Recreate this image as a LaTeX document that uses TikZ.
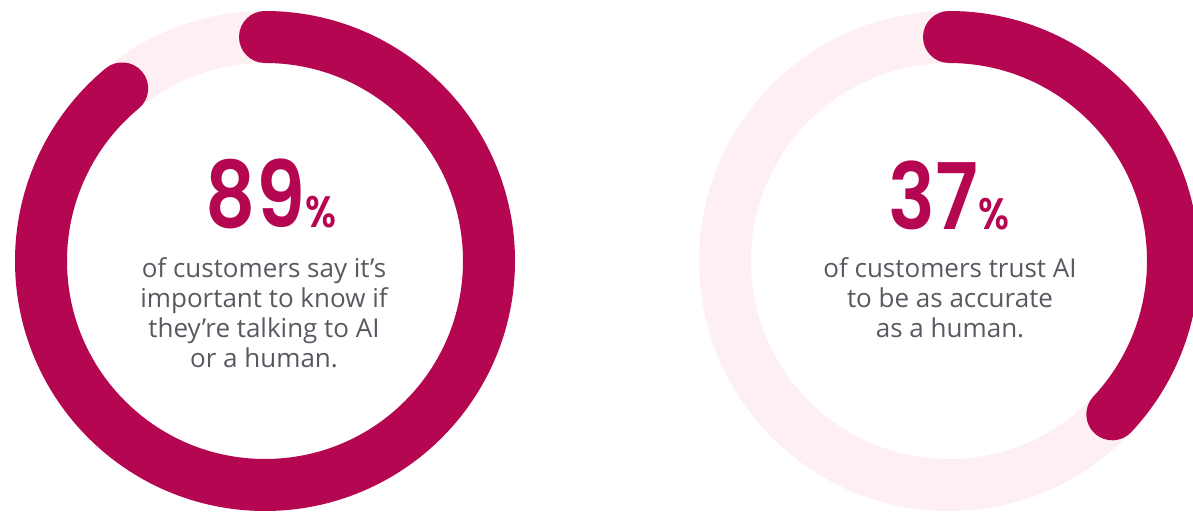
\documentclass[tikz,border=0pt]{standalone}
\usepackage{fontspec}
\setmainfont{Open Sans}
\newfontfamily\numfont{Poppins}[UprightFont={* SemiBold},FakeStretch=0.85]
\definecolor{magenta}{RGB}{181,6,82}
\definecolor{track}{RGB}{254,239,242}
\definecolor{bodygray}{RGB}{88,90,97}
\begin{document}
\begin{tikzpicture}[x=1pt,y=1pt,
  trackring/.style={draw=track,line width=52pt},
  valuearc/.style={draw=magenta,line width=52pt,line cap=round},
  bignum/.style={text=magenta,inner sep=0pt,anchor=base,font=\numfont\fontsize{92}{92}\selectfont},
  bodytext/.style={text=bodygray,align=center,inner sep=0pt,anchor=north,font=\fontsize{26}{30}\selectfont}]
\useasboundingbox (0,0) rectangle (1193,511);
\clip (0,0) rectangle (1193,511);
% left donut
\coordinate (cl) at (265,250);
\draw[trackring] (cl) circle[radius=224];
\draw[valuearc] (cl) ++(90:224) arc[start angle=90,end angle=-230.4,radius=224];
\node[bignum] (numl) at (271,283) {89\fontsize{44}{44}\selectfont\%};
\node[bodytext] (txtl) at (264,254) {of customers say it’s\\important to know if\\they’re talking to AI\\or a human.};
% right donut
\coordinate (cr) at (949,250);
\draw[trackring] (cr) circle[radius=224];
\draw[valuearc] (cr) ++(90:224) arc[start angle=90,end angle=-43.2,radius=224];
\node[bignum] (numr) at (949,281) {37\fontsize{44}{44}\selectfont\%};
\node[bodytext] (txtr) at (950,254) {of customers trust AI\\to be as accurate\\as a human.};
\end{tikzpicture}
\end{document}
